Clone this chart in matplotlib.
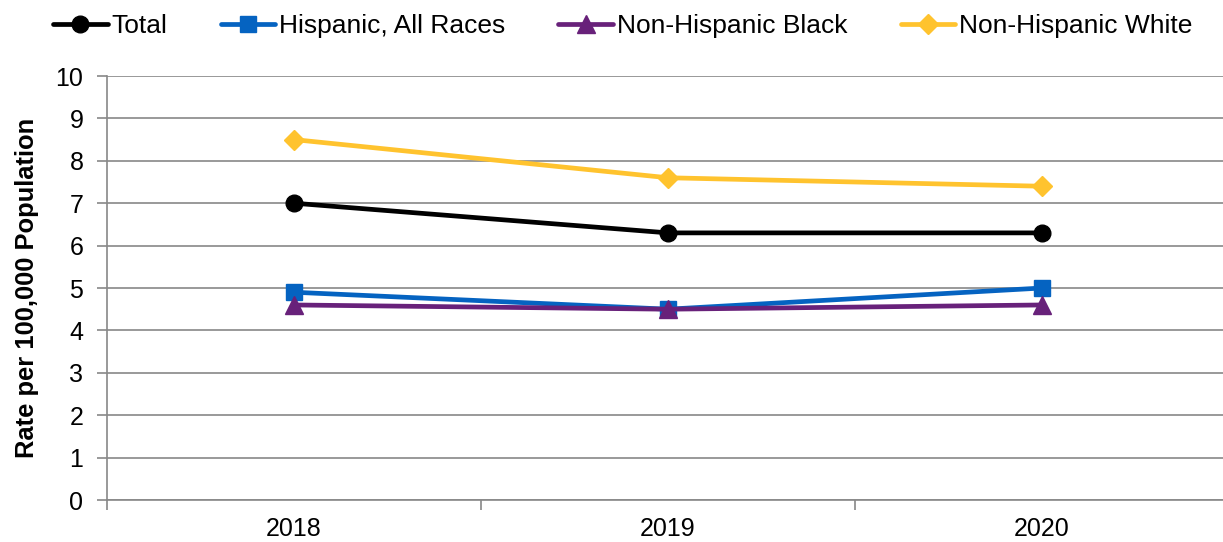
import matplotlib as mpl
import matplotlib.pyplot as plt
import numpy as np

years = ["2018", "2019", "2020"]
total = [7.0, 6.3, 6.3]
hispanic = [4.9, 4.5, 5.0]
black = [4.6, 4.5, 4.6]
white = [8.5, 7.6, 7.4]

mpl.rcParams["font.family"] = ["Liberation Sans", "DejaVu Sans"]
mpl.rcParams["font.size"] = 18

fig = plt.figure(figsize=(12.23, 5.42), dpi=100)
ax = fig.add_axes([107 / 1223, 42 / 542, (1229 - 107) / 1223, 424 / 542])

x = np.arange(len(years))
series = [
    (total, "Total", "black", "o", 12),
    (hispanic, "Hispanic, All Races", "#0563C1", "s", 12),
    (black, "Non-Hispanic Black", "#68217A", "^", 13),
    (white, "Non-Hispanic White", "#FFC32E", "D", 10),
]
for vals, label, color, marker, ms in series:
    ax.plot(x, vals, color=color, lw=3.4, marker=marker, markersize=ms,
            label=label, solid_capstyle="round", clip_on=False)

ax.set_xlim(-0.5, 2.5)
ax.set_ylim(0, 10)
ax.set_yticks(range(0, 11))
ax.set_xticks(x)
ax.set_xticklabels(years)
ax.set_xticks([-0.5, 0.5, 1.5, 2.5], minor=True)
ax.tick_params(axis="x", which="major", length=0, pad=12)
ax.tick_params(axis="x", which="minor", length=7, color="#888888", width=1.2)
ax.tick_params(axis="y", length=7, color="#888888", width=1.2, pad=10)
ax.grid(axis="y", color="#888888", lw=1.2)
ax.set_axisbelow(True)
for s in ["top", "right"]:
    ax.spines[s].set_visible(False)
for s in ["left", "bottom"]:
    ax.spines[s].set_color("#888888")
    ax.spines[s].set_linewidth(1.2)

ax.set_ylabel("Rate per 100,000 Population", fontweight="bold", fontsize=18.4, labelpad=12)

fig.legend(loc="center left", bbox_to_anchor=(53 / 1223, 1 - 26 / 542), ncol=4, frameon=False,
           borderpad=0, borderaxespad=0, handlelength=2.08, columnspacing=2.0,
           handletextpad=0.15, fontsize=19)

fig.savefig("out.png", dpi=100)
